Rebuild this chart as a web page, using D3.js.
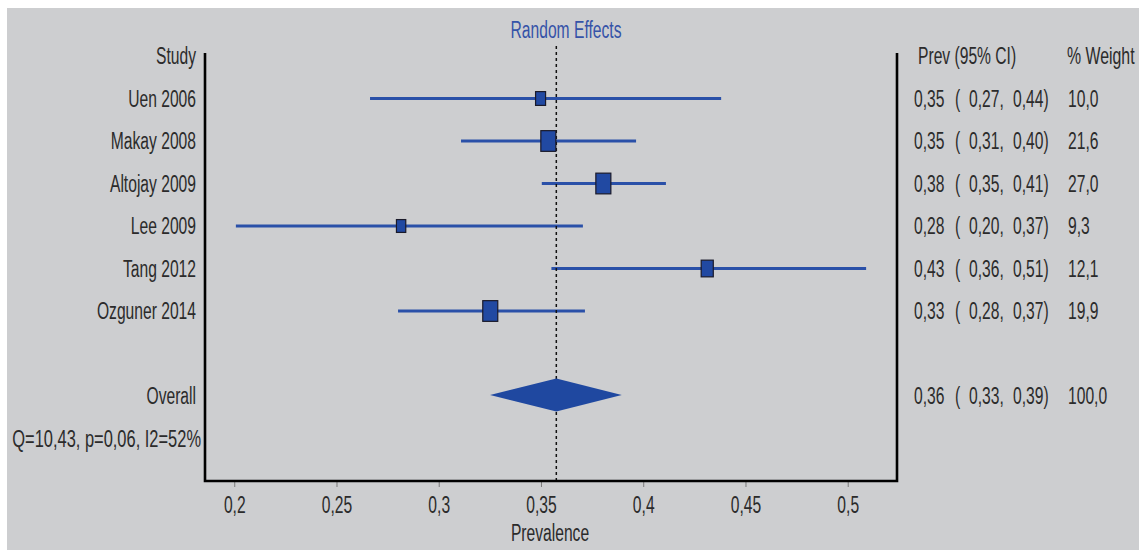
<!DOCTYPE html>
<html>
<head>
<meta charset="utf-8">
<script src="https://cdn.jsdelivr.net/npm/d3@7"></script>
<style>
  body { margin: 0; background: #fff; }
  text { font-family: "Liberation Sans", Arial, sans-serif; }
</style>
</head>
<body>
<div class="center"></div>
<script>
// chart values
var studies = ["Uen 2006", "Makay 2008", "Altojay 2009", "Lee 2009", "Tang 2012", "Ozguner 2014"];
var prev    = [0.3498, 0.3536, 0.3805, 0.2816, 0.4313, 0.3252];
var lower   = [0.2664, 0.3109, 0.3504, 0.2008, 0.3551, 0.2801];
var upper   = [0.4381, 0.3965, 0.4111, 0.3705, 0.5090, 0.3715];
var weights = [10.0, 21.6, 27.0, 9.3, 12.1, 19.9];

var overallPrev = 0.3575, overallLower = 0.3251, overallUpper = 0.3895, overallWeight = 100.0;
var heterogeneity = "Q=10,43, p=0,06, I2=52%";

var xTicks = [0.2, 0.25, 0.3, 0.35, 0.4, 0.45, 0.5];
var xTickLabels = ["0,2", "0,25", "0,3", "0,35", "0,4", "0,45", "0,5"];

var width = 1139, height = 551;
var squeeze = 0.68;   // the picture's text is narrow
var blue = "#2149a2";
var ink = "#2b2b2b";

var fmt = d3.formatLocale({decimal: ",", thousands: ".", grouping: [3], currency: ["", ""]});
var f2 = fmt.format(".2f"), f1 = fmt.format(".1f");

// scales
var x = d3.scaleLinear().domain([0.1857, 0.5241]).range([205, 897]);
var y = d3.scaleLinear().domain([0, 10]).range([56, 481]);
var boxW = d3.scaleLinear().domain([0, 15]).range([0, 15]).clamp(true);

var svg = d3.select(".center").append("svg")
    .attr("width", width)
    .attr("height", height);

svg.append("rect")
    .attr("x", 7).attr("y", 8)
    .attr("width", width - 7).attr("height", height - 9)
    .attr("fill", "#cdced0");

// narrow text helper
function label(px, py, str, anchor, color, sq) {
    return svg.append("text")
        .attr("transform", "translate(" + px + "," + py + ") scale(" + (sq || squeeze) + ",1)")
        .attr("text-anchor", anchor || "start")
        .attr("font-size", "23px")
        .attr("fill", color || ink)
        .text(str);
}

var base = 8; // baseline offset from row centre

// title
label(566, 38, "Random Effects", "middle", "#3553a8");

// left column
label(196, y(0) + base, "Study", "end");
studies.forEach(function(s, i) { label(196, y(i + 1) + base, s, "end"); });
label(196, y(8) + base, "Overall", "end");
label(201, y(9) + base, heterogeneity, "end", ink, 0.715);

// right columns
label(918, y(0) + base, "Prev (95% CI)");
label(1067, y(0) + base, "% Weight", "start", ink, 0.69);

function tableRow(row, p, lo, hi, w) {
    var yy = y(row) + base;
    label(914, yy, f2(p));
    label(955, yy, "(");
    label(969, yy, f2(lo) + ",");
    label(1013, yy, f2(hi) + ")");
    label(1068, yy, f1(w));
}
studies.forEach(function(s, i) { tableRow(i + 1, prev[i], lower[i], upper[i], weights[i]); });
tableRow(8, overallPrev, overallLower, overallUpper, overallWeight);

// confidence interval lines
svg.selectAll(".ci")
    .data(studies)
    .enter().append("line")
    .attr("class", "ci")
    .attr("x1", function(d, i) { return x(lower[i]); })
    .attr("x2", function(d, i) { return x(upper[i]); })
    .attr("y1", function(d, i) { return y(i + 1); })
    .attr("y2", function(d, i) { return y(i + 1); })
    .attr("stroke", "#2a50a8")
    .attr("stroke-width", 3);

// overall reference line
svg.append("line")
    .attr("x1", x(overallPrev)).attr("x2", x(overallPrev))
    .attr("y1", 46).attr("y2", y(10))
    .attr("stroke", "#111")
    .attr("stroke-width", 1.5)
    .attr("stroke-dasharray", "3,3");

// weighted boxes
svg.selectAll(".box")
    .data(studies)
    .enter().append("rect")
    .attr("class", "box")
    .attr("x", function(d, i) { return x(prev[i]) - boxW(weights[i]) / 2; })
    .attr("y", function(d, i) { return y(i + 1) - boxW(weights[i]) * 1.38 / 2; })
    .attr("width", function(d, i) { return boxW(weights[i]); })
    .attr("height", function(d, i) { return boxW(weights[i]) * 1.38; })
    .attr("fill", blue)
    .attr("stroke", "#1a1a2a")
    .attr("stroke-width", 1.2);

// overall diamond
var yc = y(8) - 1;
svg.append("path")
    .attr("d", "M" + x(overallLower) + "," + yc +
               "L" + x(overallPrev) + "," + (yc - 16.5) +
               "L" + x(overallUpper) + "," + yc +
               "L" + x(overallPrev) + "," + (yc + 16.5) + "Z")
    .attr("fill", "#1f48a0");

// x axis ticks
var axis = svg.append("g")
    .attr("transform", "translate(0," + y(10) + ")")
    .call(d3.axisBottom(x)
        .tickValues(xTicks)
        .tickFormat(function(d, i) { return xTickLabels[i]; })
        .tickSize(6)
        .tickPadding(10)
        .tickSizeOuter(0));
axis.select(".domain").remove();
axis.selectAll(".tick line").attr("stroke", "#7a7a7a");
axis.selectAll(".tick text")
    .attr("font-size", "23px")
    .attr("font-family", "'Liberation Sans', Arial, sans-serif")
    .attr("fill", ink)
    .attr("transform", "scale(" + squeeze + ",1)");

// frame
svg.append("path")
    .attr("d", "M" + x.range()[0] + ",53V" + y(10) + "H" + x.range()[1] + "V53")
    .attr("fill", "none")
    .attr("stroke", "#000")
    .attr("stroke-width", 2.6);

// axis title
label(550, 541, "Prevalence", "middle");
</script>
</body>
</html>
